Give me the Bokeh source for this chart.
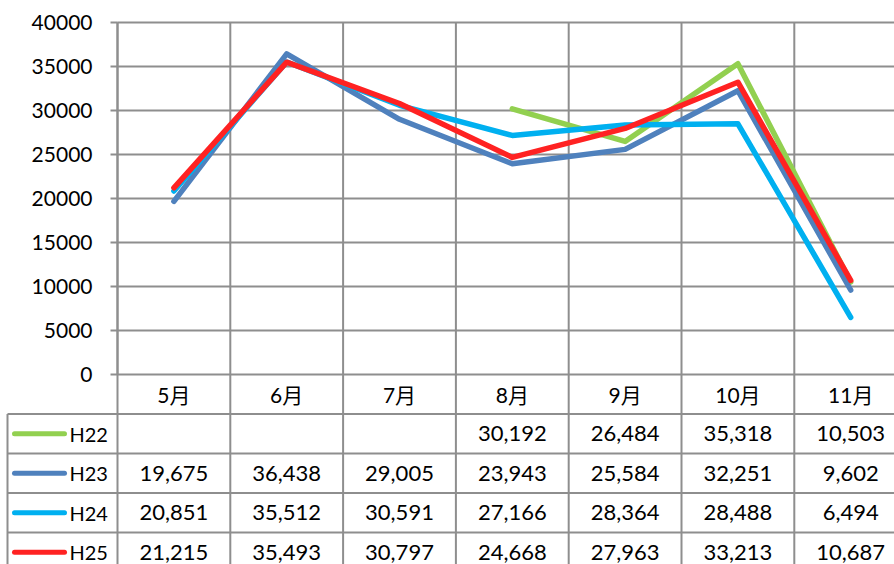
from bokeh.plotting import figure
from bokeh.models import Range1d, FixedTicker, NumeralTickFormatter, ColumnDataSource, LinearAxis
from bokeh.core.properties import value
from bokeh.embed import file_html
from bokeh.resources import INLINE

# ---------------- data ----------------
months = ["5月", "6月", "7月", "8月", "9月", "10月", "11月"]
series_names = ["H22", "H23", "H24", "H25"]
h22 = [None, None, None, 30192, 26484, 35318, 10503]
h23 = [19675, 36438, 29005, 23943, 25584, 32251, 9602]
h24 = [20851, 35512, 30591, 27166, 28364, 28488, 6494]
h25 = [21215, 35493, 30797, 24668, 27963, 33213, 10687]
y_ticks = [0, 5000, 10000, 15000, 20000, 25000, 30000, 35000, 40000]

series = [h22, h23, h24, h25]
colors = ["#92D050", "#4F81BD", "#00B0F0", "#FF2222"]

# ---------------- layout constants ----------------
W, H = 894, 564
COL = 112.8                 # px per category
LEFT = 117                  # pixel x of the value axis
ZERO = 374                  # pixel y of value 0
PX = 40000 / 352.0          # value units per pixel
ROW = 39.5 * PX             # table row height in value units
GRID = "#8E8E8E"
FONT = "Lato, Noto Sans CJK JP"

n = len(months)
xs = [i + 0.5 for i in range(n)]
bounds = list(range(n + 1))
nrows = len(series_names) + 1
table_bottom = -nrows * ROW

x_start = -LEFT / COL
x_end = (W - LEFT) / COL
y_end = ZERO * PX
y_start = -(H - ZERO) * PX

p = figure(width=W, height=H, x_range=Range1d(x_start, x_end),
           y_range=Range1d(y_start, y_end), x_axis_location=None,
           y_axis_location=None, toolbar_location=None, output_backend="svg",
           min_border=0, outline_line_color=None)
p.grid.grid_line_color = None
p.grid.visible = False

# horizontal gridlines of the chart
top_val = y_ticks[-1]
p.segment(x0=[0] * len(y_ticks), x1=[n] * len(y_ticks), y0=y_ticks, y1=y_ticks,
          line_color=GRID, line_width=2)
# vertical gridlines / table column borders
p.segment(x0=bounds, x1=bounds, y0=[top_val] * len(bounds), y1=[table_bottom] * len(bounds),
          line_color=GRID, line_width=2)
# table row borders
leg_left = (7 - LEFT) / COL
rb = [-r * ROW for r in range(1, nrows + 1)]
p.segment(x0=[leg_left] * nrows, x1=[n] * nrows, y0=rb, y1=rb,
          line_color=GRID, line_width=2)
p.segment(x0=[leg_left], x1=[leg_left], y0=[-ROW], y1=[table_bottom],
          line_color=GRID, line_width=2)

# value axis
ax = LinearAxis(fixed_location=0, bounds=(0, top_val))
ax.ticker = FixedTicker(ticks=y_ticks, minor_ticks=[])
ax.formatter = NumeralTickFormatter(format="0")
ax.axis_line_color = GRID
ax.axis_line_width = 2
ax.major_tick_line_color = GRID
ax.major_tick_line_width = 2
ax.major_tick_out = 7
ax.major_tick_in = 0
ax.minor_tick_line_color = None
ax.major_label_text_font = "Lato"
ax.major_label_text_font_size = "21px"
ax.major_label_text_color = "#000000"
ax.major_label_standoff = 18
p.add_layout(ax, "left")

# series lines
for name, vals, c in zip(series_names, series, colors):
    ys = [float("nan") if v is None else v for v in vals]
    src = ColumnDataSource(dict(x=xs, y=ys))
    p.line("x", "y", source=src, line_color=c, line_width=5.5,
           line_cap="round", line_join="round")

# table header (months)
p.text(x=xs, y=[-0.5 * ROW] * n, text=months, text_align="center", text_baseline="middle",
       text_font=value(FONT), text_font_size="21px", text_color="#000000")

leg_x0 = (14 - LEFT) / COL
leg_x1 = (64 - LEFT) / COL
lab_x = (69 - LEFT) / COL
for r, (name, vals, c) in enumerate(zip(series_names, series, colors)):
    yc = -(r + 1.5) * ROW
    p.segment(x0=[leg_x0], x1=[leg_x1], y0=[yc], y1=[yc], line_color=c,
              line_width=5, line_cap="round")
    p.text(x=[lab_x], y=[yc], text=[name], text_align="left", text_baseline="middle",
           text_font=value(FONT), text_font_size="20px", text_color="#000000")
    cells = ["" if v is None else f"{v:,}" for v in vals]
    p.text(x=xs, y=[yc] * n, text=cells, text_align="center", text_baseline="middle",
           text_font=value(FONT), text_font_size="22px", text_color="#000000")

open("out.html", "w").write(file_html(p, INLINE))
